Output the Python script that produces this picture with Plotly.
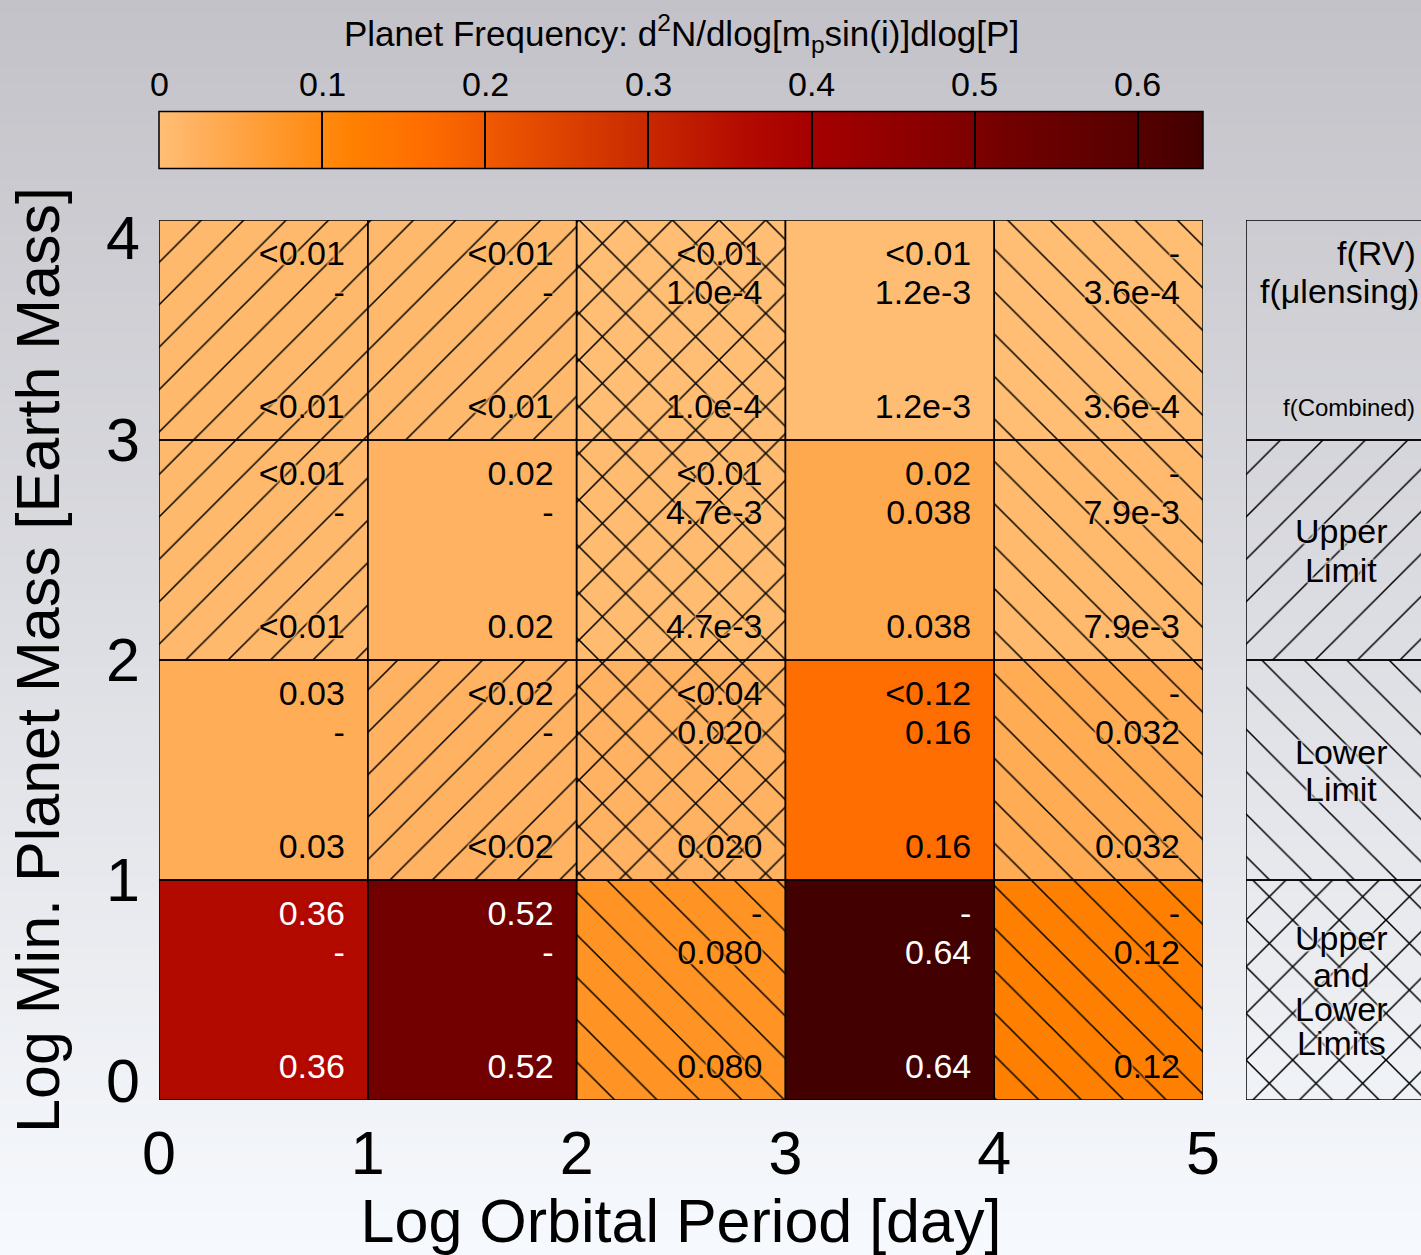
import plotly.graph_objects as go
from plotly.colors import sample_colorscale

# ---------------- data ----------------
period_edges = [0, 1, 2, 3, 4, 5]          # log orbital period [day]
mass_edges = [0, 1, 2, 3, 4]               # log min. planet mass [earth mass]

# rows: bottom (0-1) to top (3-4); columns: period bins 0-1 ... 4-5
f_rv_text = [
    ["0.36", "0.52", "-", "-", "-"],
    ["0.03", "<0.02", "<0.04", "<0.12", "-"],
    ["<0.01", "0.02", "<0.01", "0.02", "-"],
    ["<0.01", "<0.01", "<0.01", "<0.01", "-"],
]
f_ml_text = [
    ["-", "-", "0.080", "0.64", "0.12"],
    ["-", "-", "0.020", "0.16", "0.032"],
    ["-", "-", "4.7e-3", "0.038", "7.9e-3"],
    ["-", "-", "1.0e-4", "1.2e-3", "3.6e-4"],
]
f_comb_text = [
    ["0.36", "0.52", "0.080", "0.64", "0.12"],
    ["0.03", "<0.02", "0.020", "0.16", "0.032"],
    ["<0.01", "0.02", "4.7e-3", "0.038", "7.9e-3"],
    ["<0.01", "<0.01", "1.0e-4", "1.2e-3", "3.6e-4"],
]
f_comb = [
    [0.36, 0.52, 0.080, 0.64, 0.12],
    [0.03, 0.02, 0.020, 0.16, 0.032],
    [0.01, 0.02, 0.0047, 0.038, 0.0079],
    [0.01, 0.01, 0.0001, 0.0012, 0.00036],
]
# limit type: '/' upper limit, '\\' lower limit, 'x' upper and lower limits, '' measurement
limit_type = [
    ["", "", "\\", "", "\\"],
    ["", "/", "x", "", "\\"],
    ["/", "", "x", "", "\\"],
    ["/", "/", "x", "", "\\"],
]
colorbar_ticks = [0, 0.1, 0.2, 0.3, 0.4, 0.5, 0.6]
colorbar_ticktext = ["0", "0.1", "0.2", "0.3", "0.4", "0.5", "0.6"]
cmin, cmax = 0.0, 0.64

cs_vals = [0, 0.01, 0.02, 0.038, 0.08, 0.1, 0.12, 0.16, 0.2, 0.3, 0.36, 0.4, 0.5, 0.52, 0.6, 0.64]
cs_cols = ["#ffbe74", "#ffb96c", "#ffb262", "#ffa94f", "#ff9424", "#ff8a10", "#ff8000", "#ff6e00",
           "#f05a00", "#c82800", "#b30a00", "#a50000", "#7d0000", "#720000", "#560000", "#420000"]
colorscale = [[v / cmax, c] for v, c in zip(cs_vals, cs_cols)]

legend_shapes = ["", "/", "\\", "x"]  # top to bottom

FONT = "Liberation Sans, Arial, sans-serif"
W, H = 1421, 1255
ML, MR, MT, MB = 159, 0, 0, 155
pw = W - ML - MR
ph = H - MT - MB
x_dom_end = (1203 - ML) / pw
x2_dom_start = (1246 - ML) / pw
y_dom_end = (ph - 220) / ph

def py(pix):  # pixel row -> paper y
    return (ph - pix) / ph

# pattern styling
PAT_SIZE = {"/": 30, "\\": 30, "x": 33, "": 30}
PAT_SOL = {"/": 0.05, "\\": 0.05, "x": 0.09, "": 0.05}

fig = go.Figure()

# background gradient (decoration)
nstrip = 90
top = (195, 194, 200)
bot = (246, 249, 253)

def bg_at(pix):
    t = min(max(pix / H, 0), 1)
    return "rgb(%d,%d,%d)" % tuple(int(round(top[k] + (bot[k] - top[k]) * t)) for k in range(3))

shapes = []
y_top_paper = 1.0
y_bot_paper = (ph - H) / ph
for i in range(nstrip):
    y1 = y_top_paper - (y_top_paper - y_bot_paper) * i / nstrip + 0.001
    y0 = y_top_paper - (y_top_paper - y_bot_paper) * (i + 1) / nstrip - 0.001
    shapes.append(dict(type="rect", xref="paper", yref="paper", x0=-ML / pw - 0.01, x1=1.01,
                       y0=y0, y1=y1, fillcolor=bg_at(H * i / (nstrip - 1)),
                       line=dict(width=0), layer="below"))

# heatmap cells
xc = [(period_edges[i] + period_edges[i + 1]) / 2 for i in range(len(period_edges) - 1)]
yc = [(mass_edges[j] + mass_edges[j + 1]) / 2 for j in range(len(mass_edges) - 1)]
fig.add_trace(go.Heatmap(
    x=xc, y=yc, z=f_comb, zmin=cmin, zmax=cmax, colorscale=colorscale,
    hoverinfo="skip",
    colorbar=dict(
        orientation="h", x=x_dom_end / 2, xanchor="center", len=x_dom_end, lenmode="fraction",
        y=py(168 + 59), yanchor="bottom", thickness=57, thicknessmode="pixels",
        xpad=0, ypad=0, outlinewidth=1.5, outlinecolor="black",
        ticks="inside", ticklen=57, tickwidth=1.5, tickcolor="black",
        showticklabels=False, tickvals=colorbar_ticks,
    ),
))

# hatch overlay and cell borders
bx, bbase, bshape, bsize, bsol = [], [], [], [], []
for r in range(len(mass_edges) - 1):
    for c in range(len(period_edges) - 1):
        s = limit_type[r][c]
        bx.append(xc[c])
        bbase.append(mass_edges[r])
        bshape.append(s)
        bsize.append(PAT_SIZE[s])
        bsol.append(PAT_SOL[s])
fig.add_trace(go.Bar(
    x=bx, y=[1] * len(bx), base=bbase, width=1,
    marker=dict(color="rgba(0,0,0,0)", line=dict(color="black", width=1.5),
                pattern=dict(shape=bshape, fgcolor="black", bgcolor="rgba(0,0,0,0)",
                             size=bsize, solidity=bsol, fillmode="replace")),
    hoverinfo="skip", showlegend=False,
))

# cell texts (one trace per cell, with a halo in the cell colour)
line_offsets = [0.834, 0.659, 0.139]
for r in range(len(mass_edges) - 1):
    for c in range(len(period_edges) - 1):
        v = f_comb[r][c]
        cell_col = sample_colorscale(colorscale, [(v - cmin) / (cmax - cmin)])[0]
        halo = ", ".join(["0 0 3px " + cell_col] * 4)
        fig.add_trace(go.Scatter(
            x=[period_edges[c + 1] - 0.11] * 3,
            y=[mass_edges[r] + o for o in line_offsets],
            text=[f_rv_text[r][c], f_ml_text[r][c], f_comb_text[r][c]],
            mode="text", textposition="middle left",
            textfont=dict(size=34, family=FONT, color="white" if v > 0.3 else "black",
                          shadow=halo),
            hoverinfo="skip", showlegend=False,
        ))

# legend panel (second x axis)
fig.add_trace(go.Bar(
    x=[0.5] * 4, y=[1] * 4, base=[3, 2, 1, 0], width=1, xaxis="x2", yaxis="y",
    marker=dict(color="rgba(0,0,0,0)", line=dict(color="black", width=1.5),
                pattern=dict(shape=legend_shapes, fgcolor="black", bgcolor="rgba(0,0,0,0)",
                             size=[PAT_SIZE[s] for s in legend_shapes],
                             solidity=[PAT_SOL[s] for s in legend_shapes],
                             fillmode="replace")),
    hoverinfo="skip", showlegend=False,
))

bw = 190.0
def lx(px):
    return (px - 1246) / bw

annots = []
def lab(text, xpx, ypx, size=34, anchor="center"):
    halo = ", ".join(["0 0 3px " + bg_at(ypx)] * 4)
    annots.append(dict(text=text, x=lx(xpx), y=(1100 - ypx) / 220.0, xref="x2", yref="y",
                       xanchor=anchor, yanchor="middle", showarrow=False,
                       font=dict(size=size, family=FONT, color="black", shadow=halo)))

lab("f(RV)", 1418, 253, anchor="right")
lab("f(\u03bclensing)", 1421, 291, anchor="right")
lab("f(Combined)", 1417, 408, size=24, anchor="right")
lab("Upper", 1341, 531)
lab("Limit", 1341, 570)
lab("Lower", 1341, 752)
lab("Limit", 1341, 789)
lab("Upper", 1341, 938)
lab("and", 1341, 975)
lab("Lower", 1341, 1009)
lab("Limits", 1341, 1043)

# colorbar tick labels (above the bar) and title
for v, t in zip(colorbar_ticks, colorbar_ticktext):
    annots.append(dict(text=t, x=(v - cmin) / (cmax - cmin) * x_dom_end, y=py(84),
                       xref="paper", yref="paper", xanchor="center", yanchor="middle",
                       showarrow=False, font=dict(size=34, family=FONT, color="black")))
annots.append(dict(text="Planet Frequency: d<sup>2</sup>N/dlog[m<sub>p</sub>sin(i)]dlog[P]",
                   x=x_dom_end / 2, y=py(33), xref="paper", yref="paper",
                   xanchor="center", yanchor="middle", showarrow=False,
                   font=dict(size=35, family=FONT, color="black")))

# y tick label positions: end labels nudged inward as in the original
y_label_pos = [mass_edges[0] + 0.09] + mass_edges[1:-1] + [mass_edges[-1] - 0.08]

fig.update_layout(
    width=W, height=H,
    margin=dict(l=ML, r=MR, t=MT, b=MB, pad=0, autoexpand=False),
    paper_bgcolor="rgb(230,232,236)",
    plot_bgcolor="rgba(0,0,0,0)",
    shapes=shapes,
    annotations=annots,
    barmode="overlay",
    showlegend=False,
    font=dict(family=FONT, color="black"),
    xaxis=dict(domain=[0, x_dom_end], range=[period_edges[0], period_edges[-1]],
               tickvals=period_edges, ticktext=[str(v) for v in period_edges],
               ticks="", ticklabelstandoff=12, showgrid=False, zeroline=False, showline=False,
               tickfont=dict(size=61, family=FONT, color="black"),
               title=dict(text="Log Orbital Period [day]", standoff=4,
                          font=dict(size=61, family=FONT, color="black")),
               automargin=False),
    yaxis=dict(domain=[0, y_dom_end], range=[mass_edges[0], mass_edges[-1]],
               tickvals=y_label_pos, ticktext=[str(v) for v in mass_edges],
               ticks="", ticklabelstandoff=18, showgrid=False, zeroline=False, showline=False,
               tickfont=dict(size=61, family=FONT, color="black"),
               title=dict(text="Log Min. Planet Mass [Earth Mass]", standoff=26,
                          font=dict(size=61, family=FONT, color="black")),
               automargin=False),
    xaxis2=dict(domain=[x2_dom_start, 1.0], range=[0, (1421 - 1246) / bw], anchor="y",
                showticklabels=False, ticks="", showgrid=False, zeroline=False, showline=False),
)

fig.write_html("out.html", config={"displayModeBar": False},
               post_script="document.body.style.margin='0';")
